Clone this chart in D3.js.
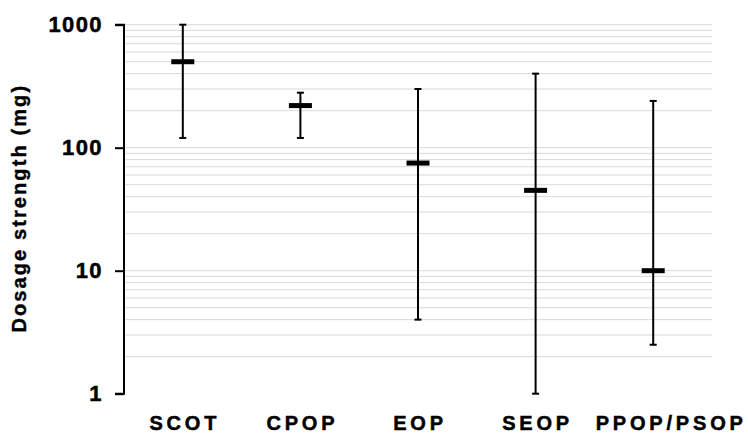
<!DOCTYPE html>
<html>
<head>
<meta charset="utf-8">
<script src="https://cdn.jsdelivr.net/npm/d3@7"></script>
<style>
  body { margin: 0; background: #fff; }
  text { font-family: "Liberation Sans", Arial, sans-serif; font-weight: bold; }
</style>
</head>
<body>
<svg id="chart" width="748" height="435"></svg>
<script>
// dosage ranges per product class (mg)
var categories = ["SCOT", "CPOP", "EOP", "SEOP", "PPOP/PSOP"];
var lowValues = [120, 120, 4, 1, 2.5];
var highValues = [1000, 280, 300, 400, 240];
var midValues = [500, 220, 75, 45, 10];
var yTicks = [1, 10, 100, 1000];

var svg = d3.select("#chart");
var plotLeft = 124, plotRight = 712, plotTop = 24.7, plotBottom = 393.7;

var x = d3.scaleBand()
    .domain(categories)
    .range([plotLeft, plotRight]);
var y = d3.scaleLog()
    .domain([1, 1000])
    .range([plotBottom, plotTop]);

// light grid on every minor step (2..10 in each decade)
var grid = [];
[1, 10, 100].forEach(function(dec){
    for (var k = 2; k <= 10; k++) grid.push(dec * k);
});
svg.append("g").selectAll("line")
    .data(grid)
    .enter().append("line")
    .attr("x1", plotLeft).attr("x2", plotRight)
    .attr("y1", function(d){ return y(d); })
    .attr("y2", function(d){ return y(d); })
    .attr("stroke", "#d9d9d9")
    .attr("stroke-width", 1);

// y axis
var yAxis = d3.axisLeft(y)
    .tickValues(yTicks)
    .tickFormat(d3.format("d"))
    .tickSize(9)
    .tickPadding(12);
var gy = svg.append("g")
    .attr("transform", "translate(" + plotLeft + ",0)")
    .call(yAxis);
gy.select(".domain").attr("stroke", "#000").attr("stroke-width", 2)
    .attr("d", "M-9," + y(1000) + "H0V" + y(1) + "H-9");
gy.selectAll(".tick line").attr("stroke", "#000").attr("stroke-width", 2);
gy.selectAll(".tick text")
    .attr("fill", "#000")
    .attr("stroke", "#000")
    .attr("stroke-width", 0.5)
    .style("font-size", "22px")
    .style("letter-spacing", "1.4px")
    .style("font-family", "'Liberation Sans', Arial, sans-serif")
    .style("font-weight", "bold");

// x labels (spaced out a little, like the source); the last one sits a bit right
svg.append("g").selectAll("text")
    .data(categories)
    .enter().append("text")
    .attr("x", function(d, i){
        return x(d) + x.bandwidth() / 2 + 2 + (i == categories.length - 1 ? 16 : 0);
    })
    .attr("y", 430)
    .attr("text-anchor", "middle")
    .attr("stroke", "#000")
    .attr("stroke-width", 0.5)
    .style("font-size", "20px")
    .style("letter-spacing", "3.8px")
    .text(function(d){ return d; });

// y title
svg.append("text")
    .attr("transform", "translate(26," + ((plotTop + plotBottom) / 2 - 1) + ") rotate(-90)")
    .attr("text-anchor", "middle")
    .attr("stroke", "#000")
    .attr("stroke-width", 0.4)
    .style("font-size", "20px")
    .style("letter-spacing", "2.1px")
    .text("Dosage strength (mg)");

// whiskers, caps and median bars
var marks = svg.append("g");
categories.forEach(function(c, i){
    var cx = x(c) + x.bandwidth() / 2;
    marks.append("line")
        .attr("x1", cx).attr("x2", cx)
        .attr("y1", y(lowValues[i])).attr("y2", y(highValues[i]))
        .attr("stroke", "#000").attr("stroke-width", 2);
    [lowValues[i], highValues[i]].forEach(function(v){
        marks.append("line")
            .attr("x1", cx - 3.5).attr("x2", cx + 3.5)
            .attr("y1", y(v)).attr("y2", y(v))
            .attr("stroke", "#000").attr("stroke-width", 2);
    });
    marks.append("rect")
        .attr("x", cx - 11.5)
        .attr("y", y(midValues[i]) - 2.5)
        .attr("width", 23)
        .attr("height", 5)
        .attr("fill", "#000");
});
</script>
</body>
</html>
